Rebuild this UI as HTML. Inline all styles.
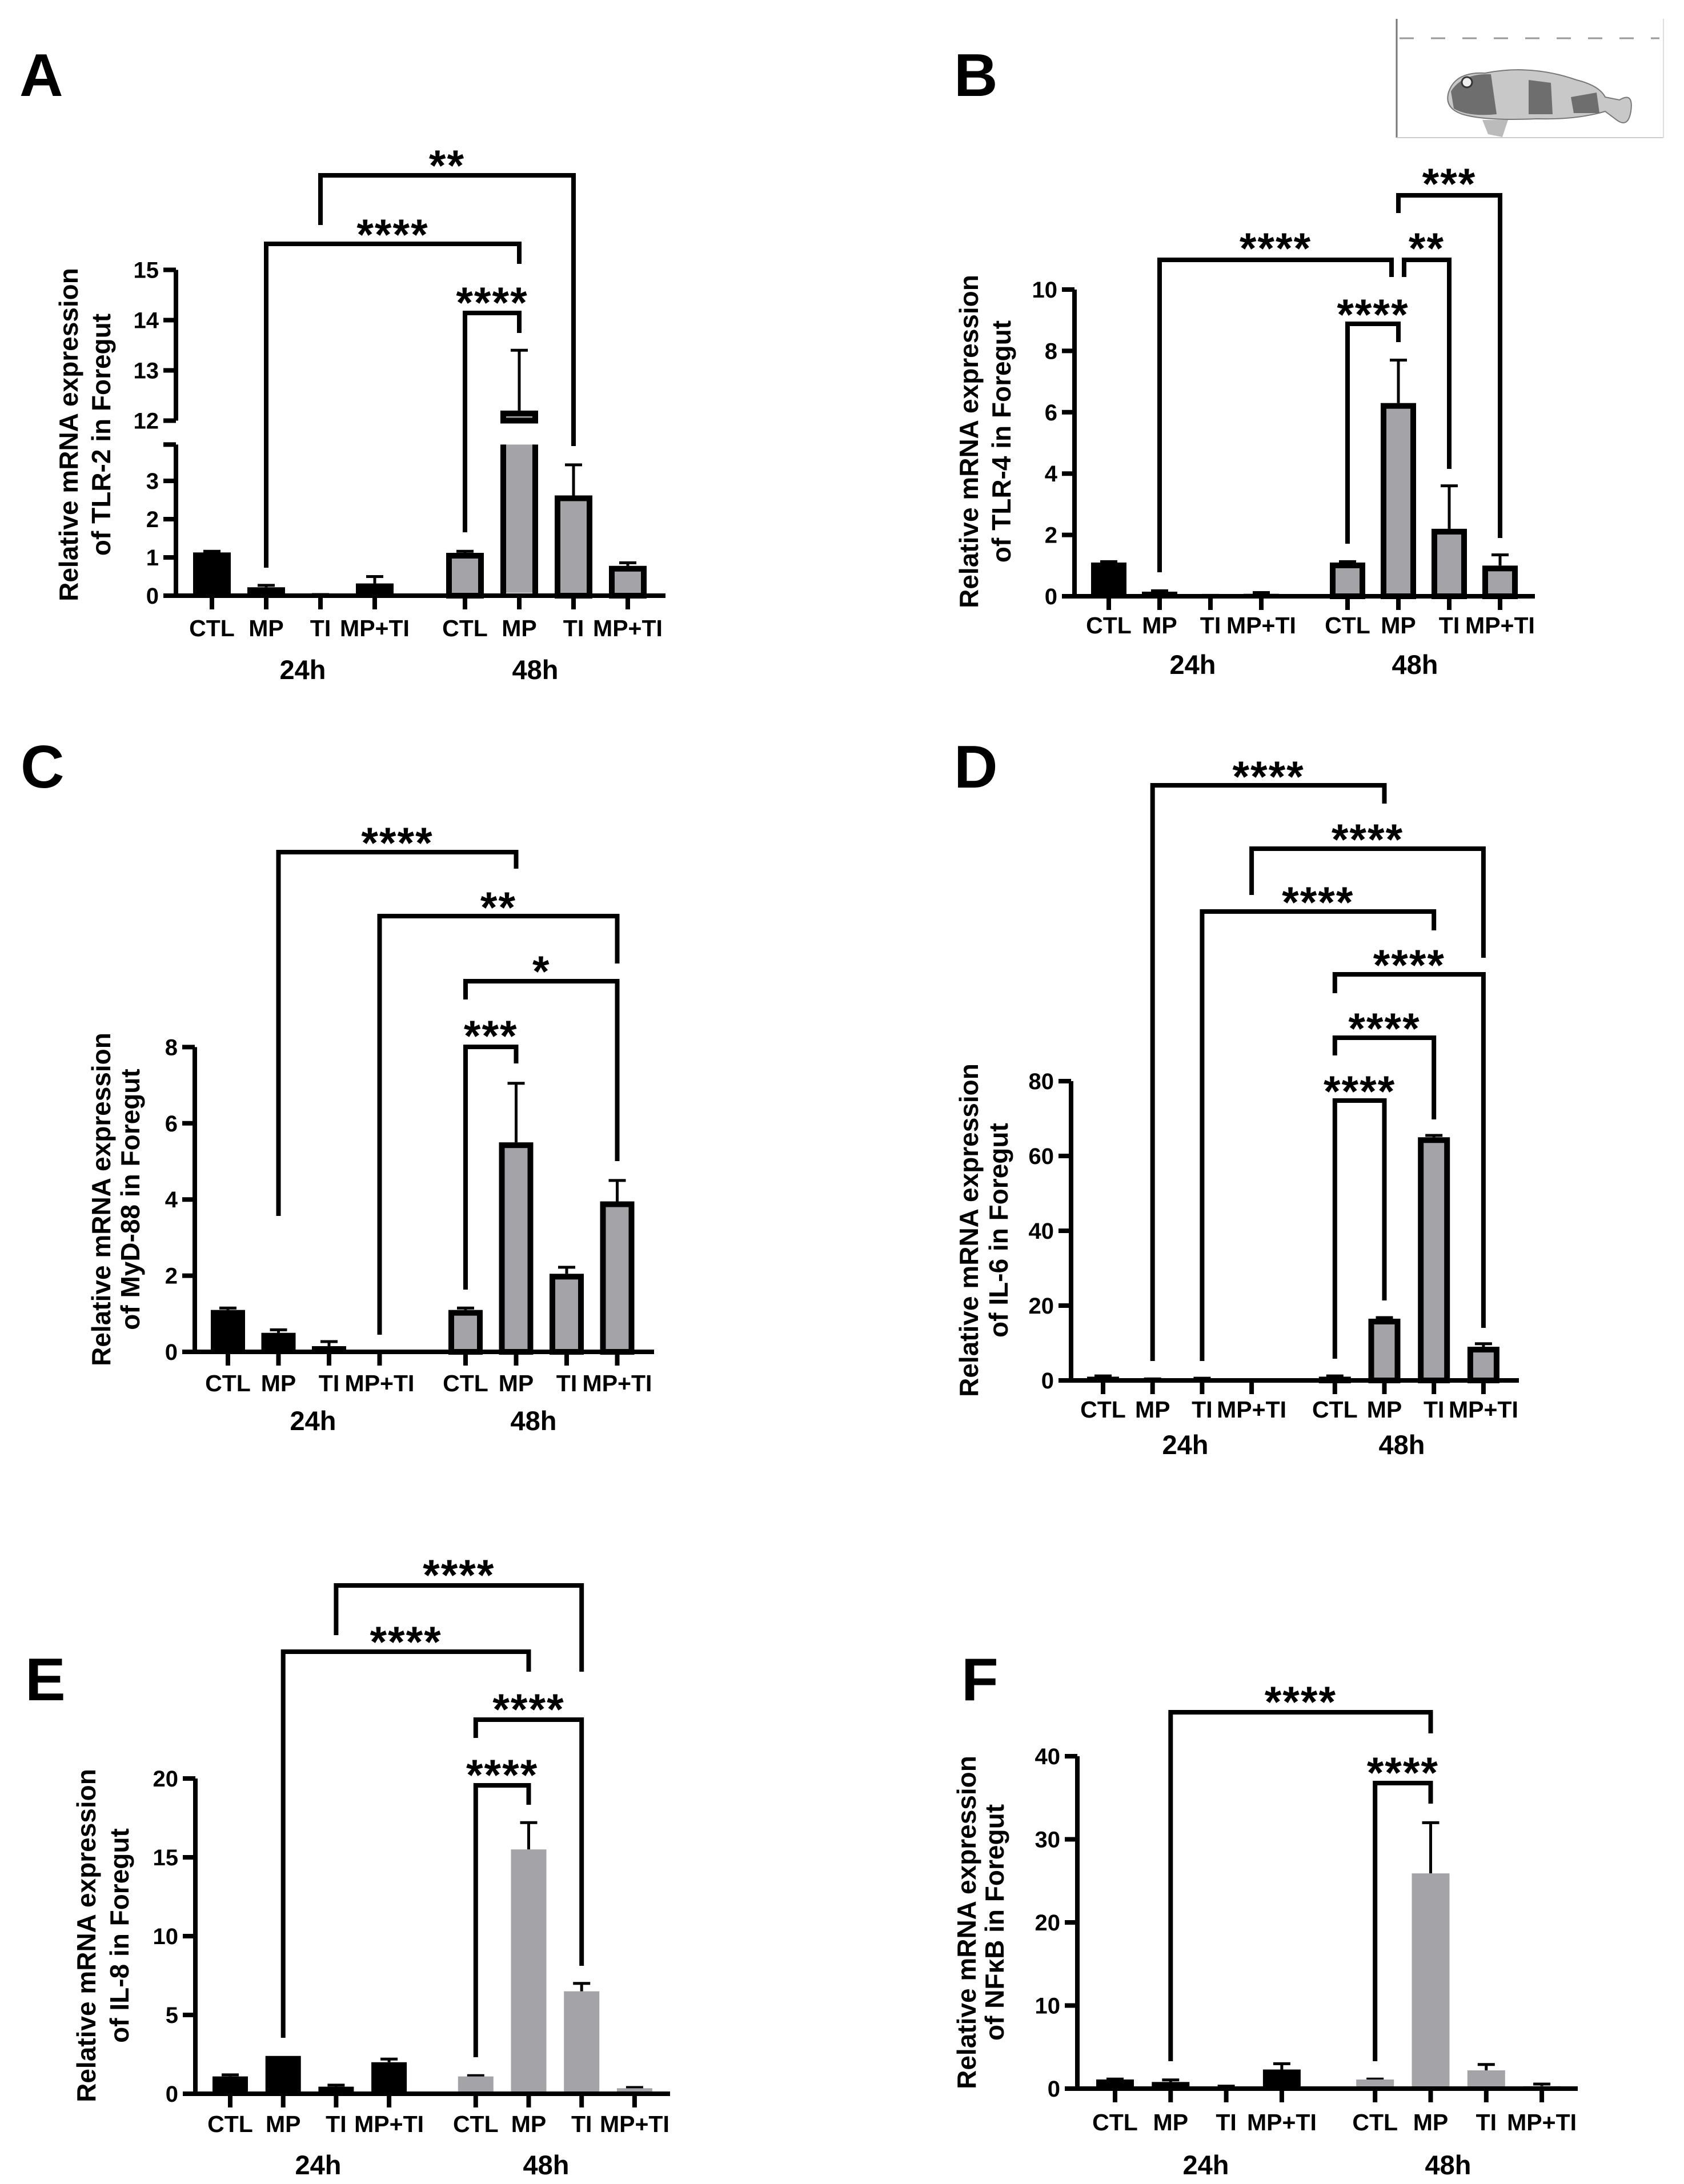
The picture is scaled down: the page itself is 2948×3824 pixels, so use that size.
<!DOCTYPE html>
<html><head><meta charset="utf-8"><style>
html,body{margin:0;padding:0;background:#fff;}
svg{display:block;font-family:"Liberation Sans",Arial,sans-serif;font-weight:bold;}
</style></head><body>
<svg id="fig" width="2948" height="3824" viewBox="0 0 2948 3824" xmlns="http://www.w3.org/2000/svg">
<rect width="2948" height="3824" fill="#fff"/>
<g id="fish">
  <line x1="2445" y1="33" x2="2445" y2="241" stroke="#777" stroke-width="3"/>
  <line x1="2445" y1="241" x2="2912" y2="241" stroke="#ccc" stroke-width="2"/>
  <line x1="2912" y1="33" x2="2912" y2="241" stroke="#ddd" stroke-width="2"/>
  <line x1="2450" y1="67" x2="2905" y2="67" stroke="#999" stroke-width="3" stroke-dasharray="25,30"/>
  <path d="M2535,165 Q2545,125 2600,128 Q2680,112 2760,140 Q2800,150 2810,170 L2835,175 Q2860,160 2855,195 Q2850,225 2830,210 L2810,195 Q2760,210 2690,208 Q2600,212 2560,200 Q2530,190 2535,165 Z" fill="#c8c8c8" stroke="#777" stroke-width="2"/>
  <path d="M2540,160 Q2560,128 2610,130 L2620,200 Q2570,205 2545,190 Z" fill="#6e6e6e"/>
  <path d="M2676,140 L2715,145 L2718,200 L2676,200 Z" fill="#6e6e6e"/>
  <path d="M2750,170 L2795,162 L2800,198 L2755,198 Z" fill="#6e6e6e"/>
  <circle cx="2568" cy="144" r="9" fill="#eee" stroke="#333" stroke-width="3"/>
  <path d="M2595,210 L2640,210 L2630,240 L2605,235 Z" fill="#bbb"/>
</g>
<g id="chart"></g>
</svg>
<script>
// ---------- DATA ----------
const groupLabels = ["24h","48h"];
const categories = ["CTL","MP","TI","MP+TI","CTL","MP","TI","MP+TI"];

const aMeans = [1.13, 0.22, 0.02, 0.32, 1.12, 12.2, 2.62, 0.78];
const aErrors = [1.16, 0.27, 0.03, 0.50, 1.16, 13.4, 3.42, 0.86];
const aTicksLower = [0,1,2,3];
const aTicksUpper = [12,13,14,15];

const bMeans = [1.1, 0.15, 0.02, 0.08, 1.1, 6.3, 2.2, 1.0];
const bErrors = [1.13, 0.18, 0.03, 0.12, 1.13, 7.7, 3.6, 1.35];
const bTicks = [0,2,4,6,8,10];

const cMeans = [1.1, 0.5, 0.15, 0.0, 1.1, 5.5, 2.05, 3.95];
const cErrors = [1.15, 0.58, 0.27, 0.0, 1.15, 7.05, 2.22, 4.5];
const cTicks = [0,2,4,6,8];

const dMeans = [1.0, 0.3, 0.5, 0.0, 1.0, 16.5, 65, 9.0];
const dErrors = [1.2, 0.4, 0.6, 0.0, 1.2, 16.8, 65.5, 9.8];
const dTicks = [0,20,40,60,80];

const eMeans = [1.1, 2.4, 0.45, 2.0, 1.1, 15.5, 6.5, 0.35];
const eErrors = [1.2, 2.4, 0.55, 2.2, 1.15, 17.2, 7.0, 0.4];
const eTicks = [0,5,10,15,20];

const fMeans = [1.1, 0.8, 0.25, 2.3, 1.1, 25.9, 2.2, 0.3];
const fErrors = [1.15, 1.05, 0.3, 3.0, 1.15, 32, 2.9, 0.55];
const fTicks = [0,10,20,30,40];

// ---------- RENDER ----------
const NS = "http://www.w3.org/2000/svg";
const root = document.getElementById("chart");
function mk(tag, attrs, parent) {
  const el = document.createElementNS(NS, tag);
  for (const k in attrs) el.setAttribute(k, attrs[k]);
  (parent || root).appendChild(el);
  return el;
}
function txt(parent, x, y, s, size, anchor) {
  const t = mk("text", {x: x, y: y, "font-size": size, "text-anchor": anchor || "middle", fill: "#000"}, parent);
  t.textContent = s;
  return t;
}

function drawPanel(p) {
  const g = mk("g", {});
  
  
  const xc = i => p.x0 + i * p.step + (i >= 4 ? p.extra : 0);
  const L = mk("text", {x: p.lx, y: p.ly, "font-size": 106, fill: "#000"}, g);
  L.textContent = p.letter;
  
  

  p.means.forEach((v, i) => {
    const cx = xc(i), w = p.barW;
    const grey = i >= 4;
    const yTop = p.y(v), yErr = p.y(p.errors[i]);
    if (p.errors[i] > v + 1e-9) {
      const eb = mk("path", {d: `M${cx},${yTop} V${yErr} M${cx - 15},${yErr} H${cx + 15}`, stroke: "#000", "stroke-width": 5, fill: "none"}, g);
      
      
    }
    let bar;
    if (p.broken && v > p.breakLow) {
      const bg = mk("g", {}, g);
      
      
      mk("rect", {x: cx - w / 2 + 5, y: p.y(p.breakLow), width: w - 10, height: p.base - p.y(p.breakLow) - 5, fill: "#a3a3a8", stroke: "none"}, bg);
      mk("path", {d: `M${cx - w / 2 + 5},${p.y(p.breakLow)} V${p.base} M${cx + w / 2 - 5},${p.y(p.breakLow)} V${p.base}`, stroke: "#000", "stroke-width": 10}, bg);
      mk("rect", {x: cx - w / 2 + 5, y: yTop + 5, width: w - 10, height: p.y(p.breakHigh) - yTop - 5, fill: "#a3a3a8", stroke: "#000", "stroke-width": 10}, bg);
      return;
    }
    if (!grey) {
      const h = Math.max(p.base - yTop, 0);
      bar = mk("rect", {x: cx - w / 2, y: yTop, width: w, height: h, fill: "#000"}, g);
    } else if (p.outline) {
      const h = Math.max(p.base - yTop - 5, 0);
      bar = mk("rect", {x: cx - w / 2 + 5, y: yTop + 5, width: w - 10, height: h, fill: "#a3a3a8", stroke: "#000", "stroke-width": 10}, g);
    } else {
      bar = mk("rect", {x: cx - w / 2, y: yTop, width: w, height: Math.max(p.base - yTop, 0), fill: "#a3a3a8"}, g);
    }
    
    
  });

  const ax = mk("g", {}, g);
  
  
  if (p.broken) {
    mk("path", {d: `M${p.ax},${p.base} V${p.y(p.breakLow)} M${p.ax - 22},${p.y(p.breakLow)} H${p.ax}`, stroke: "#000", "stroke-width": 8, fill: "none"}, ax);
    mk("path", {d: `M${p.ax},${p.y(p.breakHigh)} V${p.y(p.ticks2[p.ticks2.length - 1])}`, stroke: "#000", "stroke-width": 8, fill: "none"}, ax);
  } else {
    mk("line", {x1: p.ax, y1: p.base + 4, x2: p.ax, y2: p.y(p.ticks[p.ticks.length - 1]), stroke: "#000", "stroke-width": 8}, ax);
  }
  const allTicks = p.broken ? p.ticks.concat(p.ticks2) : p.ticks;
  allTicks.forEach(t => {
    const y = p.y(t);
    mk("line", {x1: p.ax - 22, y1: y, x2: p.ax, y2: y, stroke: "#000", "stroke-width": 8}, ax);
    const tl = txt(ax, p.ax - 30, y + 14, String(t), 40, "end");
    
    
  });
  const xa = mk("g", {}, g);
  
  
  mk("line", {x1: p.ax - 4, y1: p.base, x2: p.axEnd, y2: p.base, stroke: "#000", "stroke-width": 8}, xa);
  categories.forEach((c, i) => {
    mk("line", {x1: xc(i), y1: p.base, x2: xc(i), y2: p.base + 24, stroke: "#000", "stroke-width": 8}, xa);
    const tl = txt(xa, xc(i), p.labY + 15, c, 41);
    
    
  });
  groupLabels.forEach((gl, k) => {
    const t = txt(xa, p.grpX[k], p.grpY + 17, gl, 47);
    
    
  });
  const yt = mk("text", {transform: `translate(${p.tx1},${p.tcy}) rotate(-90)`, "font-size": 46, "text-anchor": "middle", fill: "#000"}, g);
  yt.textContent = "Relative mRNA expression";
  
  
  const yt2 = mk("text", {transform: `translate(${p.tx2},${p.tcy}) rotate(-90)`, "font-size": 46, "text-anchor": "middle", fill: "#000"}, g);
  yt2.textContent = p.title2;
  
  

  p.brackets.forEach(b => {
    const x1 = xc(b.a) + (b.ao || 0), x2 = xc(b.b) + (b.bo || 0);
    const br = mk("g", {}, g);
    
    
    mk("path", {d: `M${x1},${b.lb} V${b.top} H${x2} V${b.rb}`, stroke: "#000", "stroke-width": 8, fill: "none"}, br);
    const st = txt(br, (x1 + x2) / 2, b.sy + 44, b.s, 76);
    st.setAttribute("letter-spacing", "2");
  });
}

drawPanel({letter: "A", lx: 34, ly: 168, means: aMeans, errors: aErrors,
  broken: true, breakLow: 3.95, breakHigh: 12, ticks: aTicksLower, ticks2: aTicksUpper,
  y: v => v <= 3.95 ? 1043 - v * 67 : 736.5 - (v - 12) * 88,
  base: 1043, ax: 308, axEnd: 1165, x0: 371, step: 95, extra: 63, barW: 66, outline: true,
  labY: 1099, grpY: 1172, grpX: [530, 937], tx1: 136, tx2: 193, tcy: 761,
  title2: "of TLR-2 in Foregut",
  brackets: [
    {a: 2, b: 6, top: 307, lb: 394, rb: 781, sy: 272, s: "**"},
    {a: 1, b: 5, top: 427, lb: 994, rb: 462, sy: 393, s: "****"},
    {a: 4, b: 5, top: 548, lb: 932, rb: 583, sy: 512, s: "****"}
  ]});

drawPanel({letter: "B", lx: 1670, ly: 168, means: bMeans, errors: bErrors, ticks: bTicks,
  y: v => 1044 - v * 53.7, base: 1044, ax: 1881, axEnd: 2687, x0: 1941, step: 89, extra: 62, barW: 62, outline: true,
  labY: 1094, grpY: 1163, grpX: [2088, 2477], tx1: 1712, tx2: 1769, tcy: 773,
  title2: "of TLR-4 in Foregut",
  brackets: [
    {a: 1, b: 5, bo: -12, top: 455, lb: 1002, rb: 485, sy: 417, s: "****"},
    {a: 5, ao: 10, b: 6, top: 455, lb: 485, rb: 821, sy: 417, s: "**"},
    {a: 5, b: 7, top: 342, lb: 373, rb: 942, sy: 304, s: "***"},
    {a: 4, b: 5, top: 567, lb: 952, rb: 599, sy: 533, s: "****"}
  ]});

drawPanel({letter: "C", lx: 36, ly: 1379, means: cMeans, errors: cErrors, ticks: cTicks,
  y: v => 2367 - v * 66.7, base: 2367, ax: 341, axEnd: 1145, x0: 399, step: 88.5, extra: 62, barW: 60, outline: true,
  labY: 2421, grpY: 2487, grpX: [548, 934], tx1: 193, tx2: 244, tcy: 2100,
  title2: "of MyD-88 in Foregut",
  brackets: [
    {a: 1, b: 5, top: 1492, lb: 2129, rb: 1521, sy: 1458, s: "****"},
    {a: 3, b: 7, top: 1604, lb: 2337, rb: 1687, sy: 1571, s: "**"},
    {a: 4, b: 7, top: 1718, lb: 1750, rb: 2033, sy: 1683, s: "*"},
    {a: 4, b: 5, top: 1833, lb: 2258, rb: 1862, sy: 1796, s: "***"}
  ]});

drawPanel({letter: "D", lx: 1670, ly: 1379, means: dMeans, errors: dErrors, ticks: dTicks,
  y: v => 2417 - v * 6.55, base: 2417, ax: 1875, axEnd: 2659, x0: 1931, step: 86.7, extra: 59, barW: 56, outline: true,
  labY: 2467, grpY: 2529, grpX: [2075, 2454], tx1: 1712, tx2: 1764, tcy: 2154,
  title2: "of IL-6 in Foregut",
  brackets: [
    {a: 1, b: 5, top: 1375, lb: 2383, rb: 1407, sy: 1342, s: "****"},
    {a: 3, b: 7, top: 1486, lb: 1567, rb: 1677, sy: 1452, s: "****"},
    {a: 2, b: 6, top: 1596, lb: 2383, rb: 1629, sy: 1562, s: "****"},
    {a: 4, b: 7, top: 1706, lb: 1739, rb: 2325, sy: 1672, s: "****"},
    {a: 4, b: 6, top: 1817, lb: 1848, rb: 1960, sy: 1783, s: "****"},
    {a: 4, b: 5, top: 1927, lb: 2379, rb: 2277, sy: 1893, s: "****"}
  ]});

drawPanel({letter: "E", lx: 44, ly: 2977, means: eMeans, errors: eErrors, ticks: eTicks,
  y: v => 3666 - v * 27.6, base: 3666, ax: 342, axEnd: 1173, x0: 403, step: 92.7, extra: 59, barW: 62, outline: false,
  labY: 3718, grpY: 3790, grpX: [557, 956], tx1: 167, tx2: 225, tcy: 3389,
  title2: "of IL-8 in Foregut",
  brackets: [
    {a: 2, b: 6, top: 2776, lb: 2863, rb: 2927, sy: 2740, s: "****"},
    {a: 1, b: 5, top: 2892, lb: 3568, rb: 2927, sy: 2857, s: "****"},
    {a: 4, b: 6, top: 3011, lb: 3043, rb: 3442, sy: 2975, s: "****"},
    {a: 4, b: 5, top: 3126, lb: 3602, rb: 3160, sy: 3090, s: "****"}
  ]});

drawPanel({letter: "F", lx: 1683, ly: 2977, means: fMeans, errors: fErrors, ticks: fTicks,
  y: v => 3657 - v * 14.55, base: 3657, ax: 1886, axEnd: 2762, x0: 1952, step: 97.3, extra: 66, barW: 66, outline: false,
  labY: 3715, grpY: 3790, grpX: [2111, 2535], tx1: 1708, tx2: 1757, tcy: 3366,
  title2: "of NFκB in Foregut",
  brackets: [
    {a: 1, b: 5, top: 2998, lb: 3609, rb: 3035, sy: 2962, s: "****"},
    {a: 4, b: 5, top: 3122, lb: 3609, rb: 3158, sy: 3086, s: "****"}
  ]});
</script>
</body></html>
